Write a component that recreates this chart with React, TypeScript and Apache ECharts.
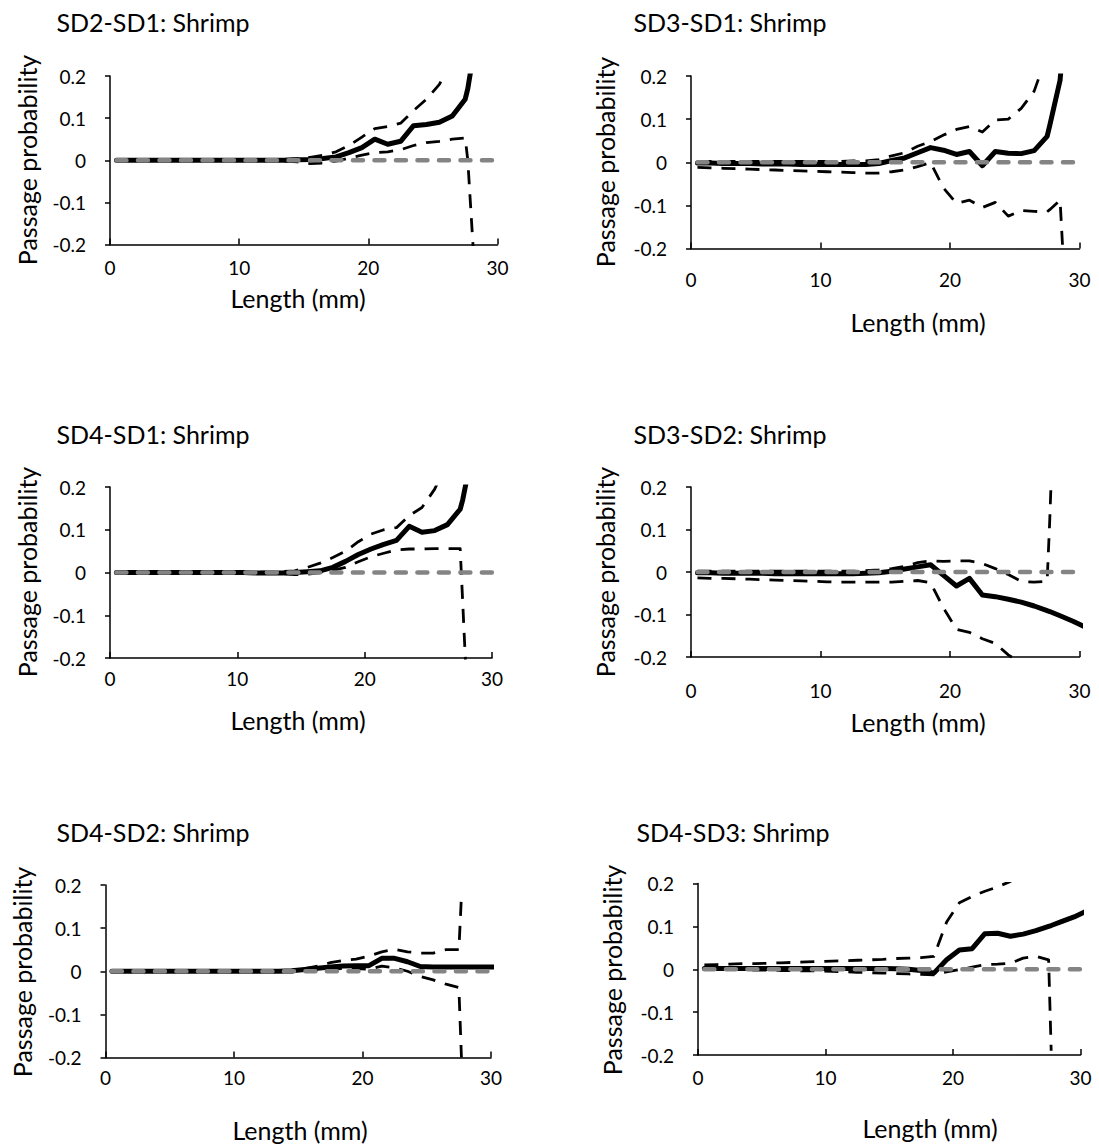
import React, { useEffect, useRef } from "react";
import * as echarts from "echarts";

// Length (mm) at which every series is sampled
const lengths = [
  0.5, 1.5, 2.5, 3.5, 4.5, 5.5, 6.5, 7.5, 8.5, 9.5, 10.5, 11.5, 12.5, 13.5,
  14.5, 15.5, 16.5, 17.5, 18.5, 19.5, 20.5, 21.5, 22.5, 23.5, 24.5, 25.5, 26.5, 27.5,
  27.7, 28.5, 29.5, 30.5,
];

// Reference line (no difference)
const zeroLine = [
  0, 0, 0, 0, 0, 0, 0, 0, 0, 0, 0, 0, 0, 0,
  0, 0, 0, 0, 0, 0, 0, 0, 0, 0, 0, 0, 0, 0,
  0, 0, 0, 0,
];

// SD2-SD1
const sd2sd1Est = [
  0, 0, 0, 0, 0, 0, 0, 0, 0, 0, 0, 0, 0, 0,
  0.001, 0.002, 0.004, 0.008, 0.018, 0.03, 0.05, 0.038, 0.045, 0.082, 0.085, 0.09, 0.105, 0.145,
  0.17, 0.32, null, null,
];
const sd2sd1Lo = [
  0, 0, 0, 0, 0, 0, 0, 0, 0, 0, 0, 0, -0.001, -0.002,
  -0.004, -0.008, -0.007, -0.002, 0.005, 0.012, 0.018, 0.02, 0.025, 0.035, 0.042, 0.045, 0.05, 0.053,
  0.0, -0.4, null, null,
];
const sd2sd1Hi = [
  0, 0, 0, 0, 0, 0, 0, 0, 0, 0, 0, 0, 0.001, 0.002,
  0.004, 0.007, 0.012, 0.02, 0.035, 0.055, 0.075, 0.08, 0.088, 0.118, 0.145, 0.18, 0.24, null,
  null, null, null, null,
];

// SD3-SD1
const sd3sd1Est = [
  -0.002, -0.002, -0.003, -0.003, -0.003, -0.004, -0.004, -0.004, -0.005, -0.005, -0.005, -0.005, -0.005, -0.005,
  -0.003, 0.004, 0.01, 0.022, 0.034, 0.028, 0.018, 0.025, -0.008, 0.025, 0.021, 0.02, 0.027, 0.06,
  0.085, 0.19, 0.55, null,
];
const sd3sd1Lo = [
  -0.012, -0.013, -0.014, -0.015, -0.016, -0.017, -0.018, -0.019, -0.02, -0.021, -0.022, -0.023, -0.024, -0.025,
  -0.025, -0.022, -0.018, -0.01, -0.001, -0.06, -0.095, -0.088, -0.105, -0.093, -0.125, -0.112, -0.114, -0.115,
  -0.11, -0.088, -0.64, null,
];
const sd3sd1Hi = [
  0.002, 0.002, 0.002, 0.002, 0.002, 0.002, 0.002, 0.002, 0.002, 0.002, 0.002, 0.002, 0.003, 0.003,
  0.006, 0.015, 0.022, 0.037, 0.048, 0.063, 0.076, 0.083, 0.07, 0.098, 0.1, 0.125, 0.165, 0.25,
  0.28, null, null, null,
];

// SD4-SD1
const sd4sd1Est = [
  0, 0, 0, 0, 0, 0, 0, 0, 0, 0, 0, -0.001, -0.001, -0.001,
  0, 0.002, 0.004, 0.012, 0.026, 0.042, 0.055, 0.066, 0.075, 0.108, 0.094, 0.098, 0.112, 0.148,
  0.17, 0.29, null, null,
];
const sd4sd1Lo = [
  0, 0, 0, 0, 0, 0, 0, 0, 0, 0, -0.001, -0.001, -0.002, -0.003,
  -0.005, -0.004, 0, 0.005, 0.012, 0.025, 0.037, 0.045, 0.053, 0.055, 0.055, 0.056, 0.056, 0.056,
  -0.07, -0.58, null, null,
];
const sd4sd1Hi = [
  0, 0, 0, 0, 0, 0, 0, 0, 0, 0, 0, 0.001, 0.001, 0.002,
  0.004, 0.012, 0.022, 0.035, 0.05, 0.072, 0.09, 0.1, 0.105, 0.133, 0.152, 0.195, 0.26, null,
  null, null, null, null,
];

// SD3-SD2
const sd3sd2Est = [
  -0.002, -0.002, -0.003, -0.003, -0.003, -0.003, -0.004, -0.004, -0.004, -0.004, -0.004, -0.004, -0.004, -0.003,
  -0.002, 0.002, 0.007, 0.012, 0.017, -0.008, -0.033, -0.015, -0.054, -0.058, -0.064, -0.071, -0.08, -0.091,
  -0.093, -0.103, -0.116, -0.13,
];
const sd3sd2Lo = [
  -0.014, -0.015, -0.015, -0.016, -0.017, -0.018, -0.019, -0.02, -0.021, -0.022, -0.023, -0.024, -0.024, -0.024,
  -0.024, -0.024, -0.022, -0.02, -0.025, -0.085, -0.135, -0.142, -0.157, -0.168, -0.195, -0.215, -0.235, -0.25,
  -0.25, -0.27, null, null,
];
const sd3sd2Hi = [
  0.002, 0.002, 0.002, 0.002, 0.002, 0.002, 0.002, 0.002, 0.002, 0.002, 0.002, 0.002, 0.002, 0.003,
  0.005, 0.008, 0.013, 0.022, 0.026, 0.025, 0.026, 0.026, 0.02, 0.008, -0.006, -0.022, -0.024, -0.022,
  0.12, 0.8, null, null,
];

// SD4-SD2
const sd4sd2Est = [
  0, 0, 0, 0, 0, 0, 0, 0, 0, 0, 0, 0, 0, 0,
  0.001, 0.004, 0.007, 0.01, 0.012, 0.013, 0.013, 0.03, 0.03, 0.022, 0.011, 0.01, 0.01, 0.01,
  0.01, 0.01, 0.01, 0.01,
];
const sd4sd2Lo = [
  0, 0, 0, 0, 0, 0, 0, 0, 0, 0, 0, 0, 0, -0.001,
  -0.002, 0, 0.003, 0.005, 0.006, 0.006, 0.005, 0.012, 0.008, 0, -0.012, -0.02, -0.03, -0.038,
  -0.2, null, null, null,
];
const sd4sd2Hi = [
  0, 0, 0, 0, 0, 0, 0, 0, 0, 0, 0, 0, 0, 0.001,
  0.002, 0.006, 0.012, 0.02, 0.025, 0.028, 0.035, 0.045, 0.051, 0.045, 0.042, 0.042, 0.05, 0.05,
  0.175, null, null, null,
];

// SD4-SD3
const sd4sd3Est = [
  0.002, 0.002, 0.002, 0.002, 0.002, 0.002, 0.002, 0.002, 0.002, 0.002, 0.002, 0.002, 0.002, 0.002,
  0.002, 0.001, 0, -0.003, -0.009, 0.022, 0.045, 0.048, 0.083, 0.084, 0.077, 0.082, 0.09, 0.1,
  0.102, 0.111, 0.122, 0.136,
];
const sd4sd3Lo = [
  0, 0, -0.001, -0.001, -0.002, -0.002, -0.003, -0.003, -0.004, -0.004, -0.005, -0.006, -0.007, -0.008,
  -0.009, -0.01, -0.011, -0.012, -0.013, -0.006, -0.001, 0.005, 0.011, 0.012, 0.014, 0.026, 0.03, 0.022,
  -0.19, null, null, null,
];
const sd4sd3Hi = [
  0.01, 0.011, 0.012, 0.013, 0.013, 0.014, 0.015, 0.016, 0.017, 0.018, 0.019, 0.02, 0.021, 0.022,
  0.023, 0.025, 0.026, 0.027, 0.03, 0.11, 0.155, 0.17, 0.182, 0.192, 0.205, 0.22, null, null,
  null, null, null, null,
];

const titles = [
  "SD2-SD1: Shrimp",
  "SD3-SD1: Shrimp",
  "SD4-SD1: Shrimp",
  "SD3-SD2: Shrimp",
  "SD4-SD2: Shrimp",
  "SD4-SD3: Shrimp",
];
const estimates = [sd2sd1Est, sd3sd1Est, sd4sd1Est, sd3sd2Est, sd4sd2Est, sd4sd3Est];
const lowers = [sd2sd1Lo, sd3sd1Lo, sd4sd1Lo, sd3sd2Lo, sd4sd2Lo, sd4sd3Lo];
const uppers = [sd2sd1Hi, sd3sd1Hi, sd4sd1Hi, sd3sd2Hi, sd4sd2Hi, sd4sd3Hi];

const xTicks = { min: 0, max: 30, interval: 10 };
const yTicks = { min: -0.2, max: 0.2, interval: 0.1 };
const xAxisTitle = "Length (mm)";
const yAxisTitle = "Passage probability";

// Layout (pixels)
const layout = [
  { left: 110, top: 76, width: 387.5, height: 168.5, xMargin: 13, title: [153, 22], yName: [27, 160], xName: [298, 298] },
  { left: 691, top: 76, width: 388.5, height: 172.5, xMargin: 21, title: [730, 22], yName: [605, 162], xName: [918, 322] },
  { left: 110, top: 487, width: 382, height: 171, xMargin: 11, title: [153, 434], yName: [27, 572], xName: [298, 720] },
  { left: 691, top: 487, width: 388.5, height: 170, xMargin: 24, title: [730, 434], yName: [605, 572], xName: [918, 722] },
  { left: 105.5, top: 885, width: 385.5, height: 172.5, xMargin: 10, title: [153, 832], yName: [22, 972], xName: [300, 1130] },
  { left: 698, top: 883.5, width: 382.5, height: 171.5, xMargin: 13, title: [733, 832], yName: [612, 970], xName: [930, 1128] },
];

const FONT = "Lato, 'Open Sans', sans-serif";

function pairs(values: (number | null)[]) {
  return lengths.map((x, i) => [x, values[i] === null || values[i] === undefined ? "-" : values[i]]);
}

export default function App() {
  const ref = useRef<HTMLDivElement>(null);

  useEffect(() => {
    if (!ref.current) return;
    const chart = echarts.init(ref.current, undefined, { renderer: "svg" });

    const grid: any[] = [];
    const xAxis: any[] = [];
    const yAxis: any[] = [];
    const series: any[] = [];
    const graphic: any[] = [];

    layout.forEach((L, i) => {
      grid.push({ left: L.left, top: L.top, width: L.width, height: L.height, containLabel: false });
      xAxis.push({
        type: "value",
        gridIndex: i,
        min: xTicks.min,
        max: xTicks.max,
        interval: xTicks.interval,
        axisLine: { show: true, onZero: false, lineStyle: { color: "#000", width: 1.5 } },
        axisTick: { show: true, inside: true, length: 6, lineStyle: { color: "#000", width: 1.5 } },
        axisLabel: { color: "#000", fontFamily: FONT, fontSize: 19, margin: L.xMargin },
        splitLine: { show: false },
      });
      yAxis.push({
        type: "value",
        gridIndex: i,
        min: yTicks.min,
        max: yTicks.max,
        interval: yTicks.interval,
        axisLine: { show: true, onZero: false, lineStyle: { color: "#000", width: 1.5 } },
        axisTick: { show: true, inside: false, length: 5, lineStyle: { color: "#000", width: 1.5 } },
        axisLabel: {
          color: "#000",
          fontFamily: FONT,
          fontSize: 19,
          margin: 24,
          formatter: (v: number) => String(Math.round(v * 10) / 10),
        },
        splitLine: { show: false },
      });

      const common = {
        type: "line",
        xAxisIndex: i,
        yAxisIndex: i,
        showSymbol: false,
        symbol: "none",
        clip: true,
        silent: true,
        animation: false,
        emphasis: { disabled: true },
      };
      series.push({
        ...common,
        name: titles[i] + " lower",
        data: pairs(lowers[i]),
        z: 2,
        lineStyle: { color: "#000", width: 2.8, type: [14, 10], cap: "butt", join: "round" },
      });
      series.push({
        ...common,
        name: titles[i] + " upper",
        data: pairs(uppers[i]),
        z: 2,
        lineStyle: { color: "#000", width: 2.8, type: [14, 10], cap: "butt", join: "round" },
      });
      series.push({
        ...common,
        name: titles[i] + " estimate",
        data: pairs(estimates[i]),
        z: 3,
        lineStyle: { color: "#000", width: 5, type: "solid", cap: "round", join: "round" },
      });
      series.push({
        ...common,
        name: titles[i] + " reference",
        data: pairs(zeroLine),
        z: 4,
        lineStyle: { color: "#848484", width: 4.5, type: [10, 11.5], cap: "round" },
      });

      graphic.push({
        type: "text",
        x: L.title[0],
        y: L.title[1],
        style: { text: titles[i], fill: "#000", font: `25px ${FONT}`, align: "center", verticalAlign: "middle" },
      });
      graphic.push({
        type: "text",
        x: L.xName[0],
        y: L.xName[1],
        style: { text: xAxisTitle, fill: "#000", font: `25px ${FONT}`, align: "center", verticalAlign: "middle" },
      });
      graphic.push({
        type: "text",
        x: L.yName[0],
        y: L.yName[1],
        rotation: Math.PI / 2,
        style: { text: yAxisTitle, fill: "#000", font: `25px ${FONT}`, align: "center", verticalAlign: "middle" },
      });
    });

    chart.setOption({
      animation: false,
      backgroundColor: "#fff",
      grid,
      xAxis,
      yAxis,
      series,
      graphic,
    });

    return () => chart.dispose();
  }, []);

  return (
    <div
      ref={ref}
      style={{ position: "absolute", left: 0, top: 0, width: 1099, height: 1148, background: "#fff" }}
    />
  );
}
